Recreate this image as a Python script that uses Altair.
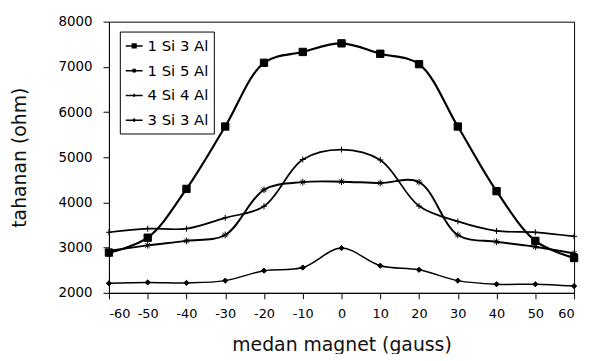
import altair as alt
import pandas as pd

# ---- data ----
field = [-60, -50, -40, -30, -20, -10, 0, 10, 20, 30, 40, 50, 60]
series_names = ["1 Si 3 Al", "1 Si 5 Al", "4 Si 4 Al", "3 Si 3 Al"]
s_1si3al = [2890, 3220, 4300, 5680, 7090, 7330, 7520, 7290, 7060, 5680, 4250, 3150, 2770]
s_1si5al = [2930, 3050, 3150, 3280, 4280, 4450, 4460, 4430, 4450, 3280, 3130, 3020, 2870]
s_4si4al = [3340, 3420, 3420, 3660, 3915, 4950, 5170, 4940, 3920, 3580, 3370, 3340, 3250]
s_3si3al = [2210, 2230, 2220, 2270, 2490, 2560, 2990, 2600, 2510, 2270, 2190, 2190, 2150]

y_ticks = [2000, 3000, 4000, 5000, 6000, 7000, 8000]
x_ticks = field

rows = []
for name, vals in zip(series_names, [s_1si3al, s_1si5al, s_4si4al, s_3si3al]):
    for xv, yv in zip(field, vals):
        rows.append({"medan": xv, "tahanan": yv, "seri": name})
df = pd.DataFrame(rows)

# marker shapes
asterisk = "M-1,0L1,0M-0.7,-0.7L0.7,0.7M-0.7,0.7L0.7,-0.7M0,-1L0,1"
plus = "M-1,0L1,0M0,-1L0,1"
marker_shapes = ["square", asterisk, plus, "diamond"]
marker_sizes = [55, 28, 30, 14]

# legend symbols: short line + marker (square drawn solid with inner strokes)
leg_square = ("M-1,0L1,0M-0.22,-0.22L0.22,-0.22L0.22,0.22L-0.22,0.22Z"
              "M-0.22,-0.11L0.22,-0.11M-0.22,0.11L0.22,0.11")
leg_ast = "M-1,0L1,0M-0.18,-0.18L0.18,0.18M-0.18,0.18L0.18,-0.18M0,-0.22L0,0.22"
leg_plus = "M-1,0L1,0M0,-0.2L0,0.2"
leg_diam = "M-1,0L1,0M-0.12,0L0,-0.12L0.12,0L0,0.12Z"
legend_shapes = [leg_square, leg_ast, leg_plus, leg_diam]

x_axis = alt.Axis(
    values=x_ticks,
    title="medan magnet (gauss)",
    labelExpr="'' + datum.value",
    labelOverlap=False,
    grid=False,
    tickSize=6,
    labelPadding=9,
    labelFontSize=13,
    titleY=52,
    titleBaseline="middle",
    titleFontSize=19,
)
y_axis = alt.Axis(
    values=y_ticks,
    title="tahanan (ohm)",
    format="d",
    labelOverlap=False,
    grid=False,
    tickSize=6,
    labelPadding=11,
    labelFontSize=13.5,
    titleAngle=-90,
    titleX=-90,
    titleY=137,
    titleAlign="center",
    titleBaseline="middle",
    titleFontSize=19,
)


def xe():
    return alt.X("medan:Q", scale=alt.Scale(domain=[-60, 60], nice=False), axis=x_axis)


def ye():
    return alt.Y("tahanan:Q", scale=alt.Scale(domain=[2000, 8000], nice=False), axis=y_axis)


lines = alt.Chart(df).mark_line(interpolate="catmull-rom", color="black").encode(
    x=xe(),
    y=ye(),
    detail="seri:N",
    strokeWidth=alt.StrokeWidth(
        "seri:N",
        scale=alt.Scale(domain=series_names, range=[2.2, 1.5, 1.4, 1.3]),
        legend=None,
    ),
)

points = alt.Chart(df).mark_point(filled=True, color="black", stroke="black", strokeWidth=1, opacity=1).encode(
    x=xe(),
    y=ye(),
    shape=alt.Shape("seri:N", scale=alt.Scale(domain=series_names, range=marker_shapes), legend=None),
    size=alt.Size("seri:N", scale=alt.Scale(domain=series_names, range=marker_sizes), legend=None),
)

legend_layer = alt.Chart(df).mark_point(
    opacity=0, filled=False, color="black", strokeWidth=1.5
).encode(
    x=xe(),
    y=ye(),
    shape=alt.Shape(
        "seri:N",
        scale=alt.Scale(domain=series_names, range=legend_shapes),
        legend=alt.Legend(
            title=None,
            orient="none",
            legendX=11,
            legendY=10,
            symbolSize=289,
            symbolOpacity=1,
            symbolFillColor="black",
            symbolStrokeColor="black",
            symbolStrokeWidth=1.5,
            labelFontSize=15,
            labelFont="DejaVu Sans",
            labelColor="black",
            labelOffset=4,
            rowPadding=7,
            padding=5,
            strokeColor="black",
            fillColor="white",
            cornerRadius=0,
        ),
    ),
)

chart = (
    alt.layer(lines, points, legend_layer)
    .resolve_scale(shape="independent", size="independent")
    .properties(
        width=470,
        height=274,
        autosize=alt.AutoSizeParams(type="none"),
        padding={"left": 102, "top": 12, "right": 8, "bottom": 60},
        background="white",
    )
    .configure_view(stroke="black", strokeWidth=1)
    .configure_axis(
        labelFont="DejaVu Sans",
        titleFont="DejaVu Sans",
        labelColor="black",
        titleColor="#111111",
        titleFontWeight="normal",
        domainColor="black",
        tickColor="black",
        domainWidth=1,
        tickWidth=1,
    )
)

chart.save("out.html", embed_options={"renderer": "svg", "actions": False})
